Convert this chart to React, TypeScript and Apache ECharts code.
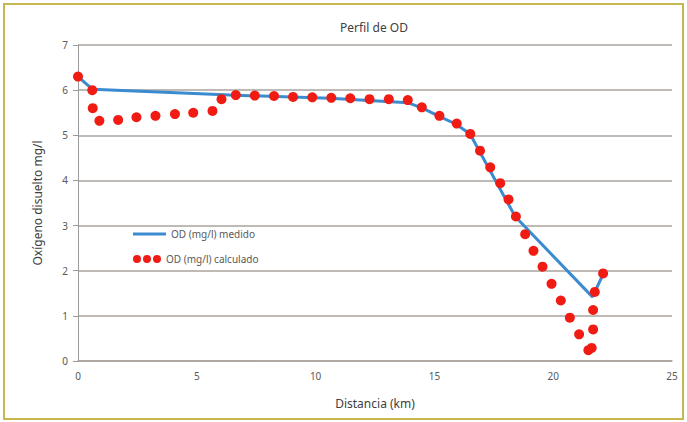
import React, { useEffect, useRef } from "react";
import * as echarts from "echarts";

const TITLE = "Perfil de OD";
const X_NAME = "Distancia (km)";
const Y_NAME = "Oxígeno disuelto mg/l";
const LINE_NAME = "OD (mg/l) medido";
const DOT_NAME = "OD (mg/l) calculado";

// measured profile (line)
const medidoX = [0, 0.6, 6.4, 10.6, 13.9, 14.5, 15.2, 15.9, 16.5, 18.4, 21.65, 22.1];
const medidoY = [6.3, 6.02, 5.89, 5.82, 5.72, 5.6, 5.42, 5.25, 5.03, 3.2, 1.42, 1.92];

// calculated profile (dots)
const calcX = [
  0, 0.6, 0.62, 0.9, 1.69, 2.46, 3.26, 4.08, 4.85, 5.66, 6.04, 6.64, 7.44, 8.25, 9.05,
  9.86, 10.66, 11.46, 12.27, 13.08, 13.88, 14.47, 15.21, 15.94, 16.51, 16.92, 17.35,
  17.77, 18.12, 18.43, 18.82, 19.17, 19.55, 19.93, 20.32, 20.7, 21.09, 21.48, 21.62,
  21.68, 21.68, 21.75, 22.1,
];
const calcY = [
  6.3, 6.0, 5.6, 5.32, 5.34, 5.4, 5.43, 5.47, 5.5, 5.54, 5.8, 5.89, 5.88, 5.87, 5.85,
  5.84, 5.83, 5.82, 5.8, 5.8, 5.78, 5.62, 5.43, 5.26, 5.03, 4.66, 4.29,
  3.94, 3.58, 3.2, 2.81, 2.44, 2.09, 1.71, 1.34, 0.96, 0.59, 0.24, 0.29,
  0.7, 1.13, 1.53, 1.94,
];

const FONT = "'Noto Sans', 'Open Sans', sans-serif";
const BLUE = "#3a8bd0";
const RED = "#f01c14";
const GRID = "#aaa39c";
const LABEL = "#595959";

export default function App() {
  const ref = useRef<HTMLDivElement>(null);
  useEffect(() => {
    if (!ref.current) return;
    const chart = echarts.init(ref.current, null, { renderer: "svg" });
    const lineData = medidoX.map((x, i) => [x, medidoY[i]]);
    const dotData = calcX.map((x, i) => [x, calcY[i]]);
    chart.setOption({
      animation: false,
      backgroundColor: "#ffffff",
      textStyle: { fontFamily: FONT },
      title: {
        text: TITLE,
        left: 369,
        textAlign: "center",
        top: 16,
        textStyle: { fontSize: 12, fontWeight: "normal", color: "#404040", fontFamily: FONT },
      },
      graphic: [
        {
          type: "rect",
          shape: { x: 4, y: 4, width: 679, height: 415 },
          style: { fill: "none", stroke: "#c6b84e", lineWidth: 2 },
          silent: true,
        },
      ],
      legend: [
        {
          data: [{ name: LINE_NAME, icon: "rect" }],
          left: 133,
          top: 229,
          padding: 0,
          itemWidth: 33,
          itemHeight: 3,
          itemGap: 6,
          textStyle: { fontSize: 10, color: LABEL, fontFamily: FONT },
        },
        {
          data: [
            {
              name: DOT_NAME,
              icon:
                "path://M0,4a4,4 0 1,0 8,0a4,4 0 1,0 -8,0zM10,4a4,4 0 1,0 8,0a4,4 0 1,0 -8,0zM20,4a4,4 0 1,0 8,0a4,4 0 1,0 -8,0z",
            },
          ],
          left: 133,
          top: 254,
          padding: 0,
          itemWidth: 28,
          itemHeight: 8,
          textStyle: { fontSize: 10, color: LABEL, fontFamily: FONT },
        },
      ],
      grid: { left: 78, right: 15, top: 45, bottom: 61, containLabel: false },
      xAxis: {
        type: "value",
        min: 0,
        max: 25,
        interval: 5,
        name: X_NAME,
        nameLocation: "middle",
        nameGap: 36,
        nameTextStyle: { fontSize: 12, color: "#404040", fontFamily: FONT },
        axisLine: { show: true, onZero: false, lineStyle: { color: GRID, width: 1.5 } },
        axisTick: { show: false },
        axisLabel: { margin: 10, fontSize: 10, color: LABEL, fontFamily: FONT },
        splitLine: { show: false },
      },
      yAxis: {
        type: "value",
        min: 0,
        max: 7,
        interval: 1,
        name: Y_NAME,
        nameLocation: "middle",
        nameGap: 35,
        nameTextStyle: { fontSize: 12, color: "#404040", fontFamily: FONT },
        axisLine: { show: true, lineStyle: { color: "#9a9a9a", width: 1 } },
        axisTick: { show: true, length: 5, lineStyle: { color: "#9a9a9a" } },
        axisLabel: { margin: 10, fontSize: 10, color: LABEL, fontFamily: FONT },
        splitLine: { show: true, lineStyle: { color: GRID, width: 1.5 } },
      },
      series: [
        {
          name: LINE_NAME,
          type: "line",
          data: lineData,
          showSymbol: false,
          symbol: "none",
          lineStyle: { color: BLUE, width: 3 },
          itemStyle: { color: BLUE },
          z: 2,
        },
        {
          name: DOT_NAME,
          type: "scatter",
          data: dotData,
          symbol: "circle",
          symbolSize: 10,
          clip: false,
          itemStyle: { color: RED, opacity: 1 },
          z: 3,
        },
      ],
    });
    return () => chart.dispose();
  }, []);
  return (
    <div
      ref={ref}
      style={{ position: "absolute", left: 0, top: 0, width: 687, height: 422 }}
    />
  );
}
